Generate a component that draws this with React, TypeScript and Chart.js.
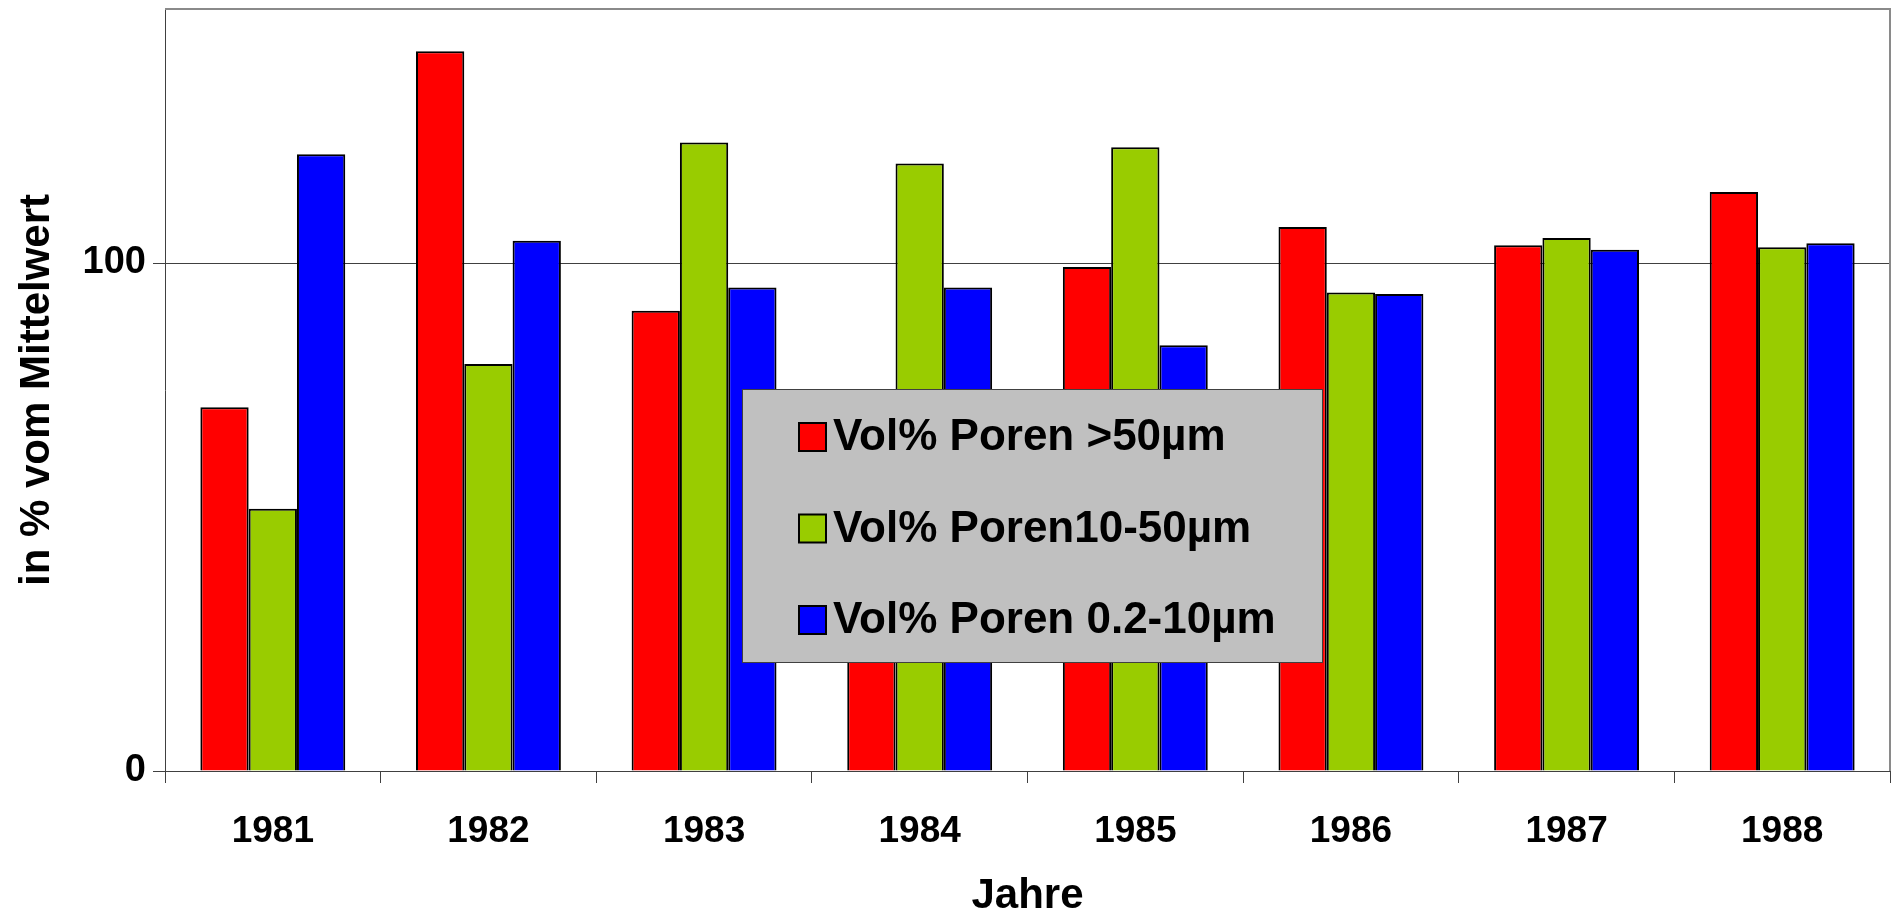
import React, { useEffect, useRef } from 'react';
import { Chart, registerables } from 'chart.js';

Chart.register(...registerables);

const years = ['1981', '1982', '1983', '1984', '1985', '1986', '1987', '1988'];
const seriesLabels = ['Vol% Poren >50µm', 'Vol% Poren10-50µm', 'Vol% Poren 0.2-10µm'];
const poren50 = [71.6, 141.7, 90.6, 72.3, 99.2, 107.1, 103.5, 114.0];
const poren10to50 = [51.6, 80.1, 123.7, 119.6, 122.8, 94.2, 104.9, 103.1];
const poren02to10 = [121.4, 104.4, 95.2, 95.2, 83.8, 93.9, 102.6, 103.9];
const seriesColors = ['#FF0000', '#99CC00', '#0000FF'];
const yTickValues = [0, 100];
const yMax = 150;
const xTitle = 'Jahre';
const yTitle = 'in % vom Mittelwert';

const FONT = "'Liberation Sans', Arial, Helvetica, sans-serif";

const framePlugin = {
  id: 'frame',
  beforeDatasetsDraw(chart: any) {
    const { ctx, chartArea } = chart;
    ctx.save();
    ctx.strokeStyle = '#8a8a8a';
    ctx.lineWidth = 2;
    ctx.beginPath();
    ctx.moveTo(chartArea.left, chartArea.top);
    ctx.lineTo(chartArea.right, chartArea.top);
    ctx.lineTo(chartArea.right, chartArea.bottom);
    ctx.stroke();
    ctx.restore();
  },
};

const boxLegendPlugin = {
  id: 'boxLegend',
  afterDatasetsDraw(chart: any) {
    const { ctx } = chart;
    const x0 = 742, y0 = 389, w = 581, h = 274;
    ctx.save();
    ctx.fillStyle = '#C0C0C0';
    ctx.fillRect(x0, y0, w, h);
    ctx.strokeStyle = '#404040';
    ctx.lineWidth = 1;
    ctx.strokeRect(x0 + 0.5, y0 + 0.5, w - 1, h - 1);
    const rowCenters = [437, 528.5, 620];
    ctx.font = `bold 44px ${FONT}`;
    ctx.textBaseline = 'middle';
    ctx.textAlign = 'left';
    chart.data.datasets.forEach((ds: any, i: number) => {
      const cy = rowCenters[i];
      ctx.fillStyle = ds.backgroundColor;
      ctx.fillRect(799, cy - 14, 27, 28);
      ctx.strokeStyle = '#000';
      ctx.lineWidth = 2;
      ctx.strokeRect(799, cy - 14, 27, 28);
      ctx.fillStyle = '#000';
      ctx.fillText(ds.label, 833, cy + 1);
    });
    ctx.restore();
  },
};

export default function App() {
  const canvasRef = useRef<HTMLCanvasElement | null>(null);

  useEffect(() => {
    if (!canvasRef.current) return;
    const seriesData = [poren50, poren10to50, poren02to10];
    const chart = new Chart(canvasRef.current, {
      type: 'bar',
      data: {
        labels: years,
        datasets: seriesLabels.map((label, i) => ({
          label,
          data: seriesData[i],
          backgroundColor: seriesColors[i],
          borderColor: '#000000',
          borderWidth: 2,
          barPercentage: 1,
          categoryPercentage: 0.672,
        })),
      },
      options: {
        animation: false,
        responsive: true,
        maintainAspectRatio: false,
        layout: { padding: { left: 0, right: 4, top: 9, bottom: 0 } },
        plugins: {
          legend: { display: false },
          tooltip: { enabled: false },
        },
        scales: {
          x: {
            afterFit(scale: any) {
              scale.height = 146;
              scale.paddingLeft = 0;
              scale.paddingRight = 0;
            },
            grid: {
              display: true,
              drawOnChartArea: false,
              drawTicks: true,
              tickLength: 12,
              color: '#404040',
              offset: true,
            },
            border: { display: true, color: '#404040', width: 1 },
            ticks: {
              color: '#000',
              padding: 30,
              font: { family: FONT, size: 37, weight: 'bold', lineHeight: 1 },
            },
            title: {
              display: true,
              text: xTitle,
              color: '#000',
              padding: { top: 0, bottom: 0 },
              font: { family: FONT, size: 42, weight: 'bold', lineHeight: 1 },
            },
          },
          y: {
            min: 0,
            max: yMax,
            afterFit(scale: any) {
              scale.width = 165;
              scale.paddingTop = 0;
              scale.paddingBottom = 0;
            },
            afterBuildTicks(scale: any) {
              scale.ticks = yTickValues.map((v) => ({ value: v }));
            },
            grid: {
              display: true,
              drawTicks: true,
              tickLength: 12,
              color: '#404040',
              lineWidth: 1,
            },
            border: { display: true, color: '#404040', width: 1 },
            ticks: {
              color: '#000',
              padding: 7,
              font: { family: FONT, size: 38, weight: 'bold', lineHeight: 1 },
            },
            title: {
              display: true,
              text: yTitle,
              color: '#000',
              padding: { top: 16, bottom: 0 },
              font: { family: FONT, size: 42, weight: 'bold', lineHeight: 1 },
            },
          },
        },
      },
      plugins: [framePlugin, boxLegendPlugin],
    });
    return () => chart.destroy();
  }, []);

  return (
    <div style={{ position: 'fixed', left: 0, top: 0, width: 1894, height: 917, background: '#fff' }}>
      <canvas ref={canvasRef} />
    </div>
  );
}
